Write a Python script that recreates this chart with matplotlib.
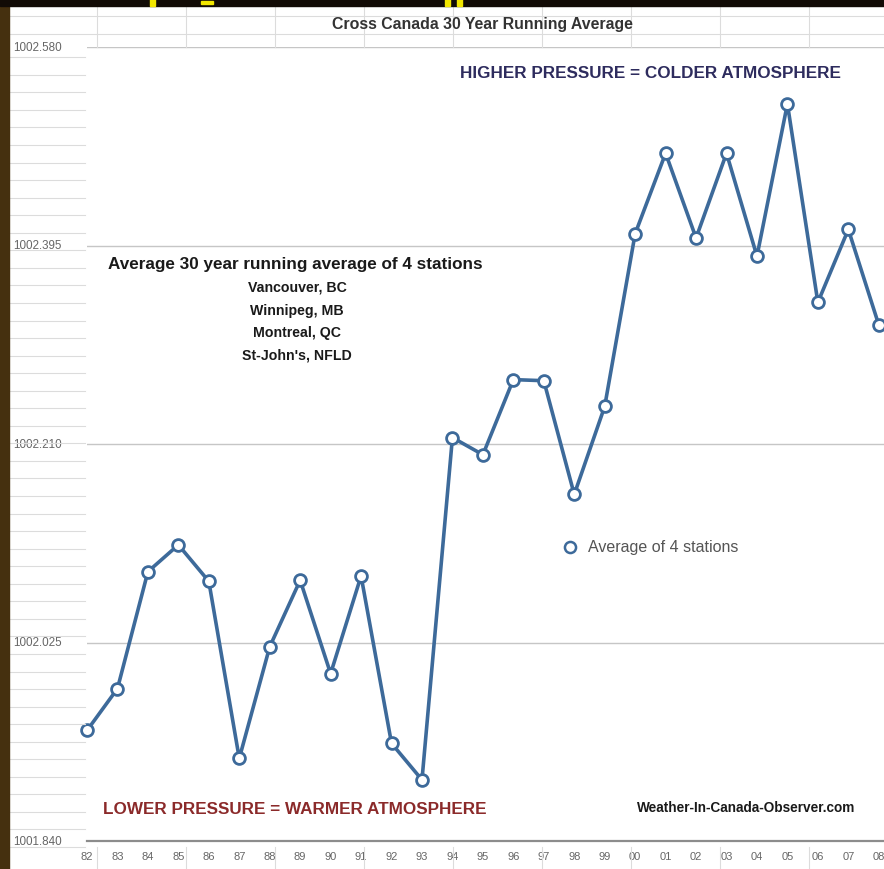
import matplotlib.pyplot as plt
import numpy as np
from matplotlib.lines import Line2D
from matplotlib.patches import Rectangle
from matplotlib import transforms

W, H = 884, 870

years = ["82", "83", "84", "85", "86", "87", "88", "89", "90", "91", "92",
         "93", "94", "95", "96", "97", "98", "99", "00", "01", "02", "03",
         "04", "05", "06", "07", "08"]
pressure = [1001.943, 1001.982, 1002.091, 1002.116, 1002.082, 1001.917,
            1002.021, 1002.083, 1001.996, 1002.087, 1001.931, 1001.897,
            1002.216, 1002.200, 1002.270, 1002.269, 1002.163, 1002.245,
            1002.406, 1002.481, 1002.402, 1002.481, 1002.385, 1002.527,
            1002.342, 1002.410, 1002.321]
y_ticks = [1001.840, 1002.025, 1002.210, 1002.395, 1002.580]
stations = ["Vancouver, BC", "Winnipeg, MB", "Montreal, QC", "St-John's, NFLD"]

LINE_COLOR = "#3d6a9a"
plt.rcParams["font.family"] = ["Liberation Sans", "DejaVu Sans"]


def px(x, y):
    """pixel coords (from top-left) -> figure fraction"""
    return x / W, 1 - y / H


def hline(fig, x0, x1, y, color="#dcdcdc", lw=0.8):
    fig.add_artist(Line2D([x0 / W, x1 / W], [1 - y / H, 1 - y / H],
                          transform=fig.transFigure, color=color, lw=lw))


def vline(fig, x, y0, y1, color="#dcdcdc", lw=0.8):
    fig.add_artist(Line2D([x / W, x / W], [1 - y0 / H, 1 - y1 / H],
                          transform=fig.transFigure, color=color, lw=lw))


fig = plt.figure(figsize=(W / 100, H / 100), dpi=100)
fig.patch.set_facecolor("white")

# spreadsheet grid showing around the chart
for y in np.arange(848, 50, -17.55):
    hline(fig, 9, 85, y)
for y in (17, 35):
    hline(fig, 9, W, y)
for x in np.arange(97, W, 89):
    vline(fig, x, 7, 48)
    vline(fig, x, 848, H)

# chart
x = np.arange(len(years))
ax = fig.add_axes([87 / W, 1 - 842 / H, 807 / W, (842 - 48) / H])
ax.set_facecolor("none")
ax.plot(x, pressure, color=LINE_COLOR, lw=2.6, marker="o", ms=8.5,
        mfc="white", mec=LINE_COLOR, mew=2.0, clip_on=False, zorder=3)
ax.set_xlim(0, 26.5)
ax.set_ylim(y_ticks[0], y_ticks[-1])
ax.set_yticks(y_ticks)
ax.yaxis.grid(True, color="#c6c6c6", lw=1.0)
ax.tick_params(axis="y", length=0, labelleft=False)
ax.set_xticks(x)
ax.set_xticklabels(years, fontsize=8, color="#666666")
ax.tick_params(axis="x", length=0, pad=7.5)
for side in ("left", "right", "top"):
    ax.spines[side].set_visible(False)
ax.spines["bottom"].set_color("#8c8c8c")
ax.spines["bottom"].set_linewidth(1.6)

trans = transforms.blended_transform_factory(fig.transFigure, ax.transData)
for t in y_ticks:
    ax.text(13 / W, t, f"{t:.3f}", transform=trans, ha="left", va="center",
            fontsize=8.4, color="#666666")

# annotations
fig.text(*px(482, 25), "Cross Canada 30 Year Running Average", ha="center",
         va="center", fontsize=11.4, fontweight="bold", color="#333333")
fig.text(*px(650, 73), "HIGHER PRESSURE = COLDER ATMOSPHERE", ha="center",
         va="center", fontsize=12.3, fontweight="bold", color="#2e2c5e")
fig.text(*px(108, 265), "Average 30 year running average of 4 stations",
         ha="left", va="center", fontsize=12.3, fontweight="bold", color="#1a1a1a")
for i, s in enumerate(stations):
    fig.text(*px(297, 288 + i * 22.5), s, ha="center", va="center",
             fontsize=10.2, fontweight="bold", color="#1a1a1a")
fig.text(*px(103, 810), "LOWER PRESSURE = WARMER ATMOSPHERE", ha="left",
         va="center", fontsize=12.3, fontweight="bold", color="#8b2a2a")
fig.text(*px(637, 808), "Weather-In-Canada-Observer.com", ha="left",
         va="center", fontsize=9.8, fontweight="bold", color="#1a1a1a")

# legend
fig.add_artist(Line2D([570 / W], [1 - 548 / H], transform=fig.transFigure,
                      marker="o", ms=8, mfc="white", mec=LINE_COLOR, mew=1.8))
fig.text(*px(588, 548), "Average of 4 stations", ha="left", va="center",
         fontsize=11.5, color="#555555")

# dark frame of the screenshot
fig.add_artist(Rectangle((0, 0), 9 / W, 1, transform=fig.transFigure,
                         color="#45300f", zorder=10))
fig.add_artist(Rectangle((0, 1 - 7 / H), 1, 7 / H, transform=fig.transFigure,
                         color="#120b06", zorder=10))
for x0, w in ((150, 5), (445, 5), (457, 5)):
    fig.add_artist(Rectangle((x0 / W, 1 - 7 / H), w / W, 7 / H,
                             transform=fig.transFigure, color="#f2e600", zorder=11))
fig.add_artist(Rectangle((201 / W, 1 - 5 / H), 12 / W, 3 / H,
                         transform=fig.transFigure, color="#f2e600", zorder=11))

fig.savefig("out.png", dpi=100)
